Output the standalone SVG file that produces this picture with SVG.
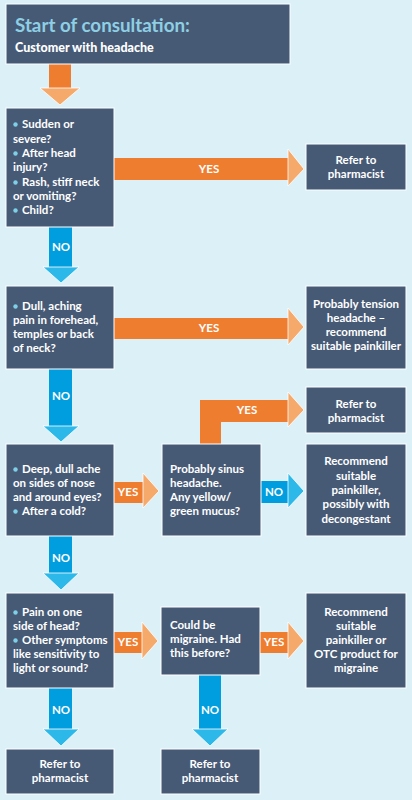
<svg xmlns="http://www.w3.org/2000/svg" width="412" height="800" viewBox="0 0 412 800">
<style>
.bg{fill:#dcf0f8}
.box{fill:#465a76;stroke:#ffffff;stroke-width:1}
.t{font-family:Lato,"Open Sans","Liberation Sans",sans-serif;font-weight:bold;font-size:11.5px;fill:#ffffff}
.sub{font-family:Lato,"Open Sans","Liberation Sans",sans-serif;font-weight:900;font-size:12.5px;fill:#ffffff}
.c{text-anchor:middle}
.b{fill:#7fcfe6}
.title{font-family:Lato,"Open Sans","Liberation Sans",sans-serif;font-weight:bold;font-size:18.8px;fill:#8ecfe4}
.os{fill:#ee7d30}
.oh{fill:#f5a96b;stroke:#ffffff;stroke-width:0.8}
.bs{fill:#009ede}
.bh{fill:#2db8ea;stroke:#ffffff;stroke-width:0.8}
</style>
<rect class="bg" x="0" y="0" width="412" height="800"/>

<g id="connectors">
  <rect class="os" x="49" y="64" width="22" height="25"/>
  <polygon class="oh" points="40,88 80,88 60,105"/>
  <rect class="os" x="114" y="158" width="175" height="22"/>
  <polygon class="oh" points="288,149 304,169 288,186"/>
  <text class="t c" x="209" y="173">YES</text>
  <rect class="bs" x="49" y="227" width="23" height="41"/>
  <polygon class="bh" points="43,267 79,267 61,283"/>
  <text class="t c" x="61" y="251">NO</text>
  <rect class="os" x="114" y="318" width="175" height="21"/>
  <polygon class="oh" points="288,308 304,327 288,345"/>
  <text class="t c" x="209" y="332">YES</text>
  <rect class="bs" x="49" y="369" width="23" height="58"/>
  <polygon class="bh" points="43,426 79,426 61,442"/>
  <text class="t c" x="61" y="400">NO</text>
  <rect class="os" x="114" y="482" width="30" height="21"/>
  <polygon class="oh" points="143,473 159,491 143,508"/>
  <text class="t c" x="128" y="496">YES</text>
  <path class="os" d="M200,444 V400 H289 V422 H221 V444 Z"/>
  <polygon class="oh" points="288,392 304,410 288,427"/>
  <text class="t c" x="247" y="414">YES</text>
  <rect class="bs" x="261" y="481" width="28" height="22"/>
  <polygon class="bh" points="288,473 304,491 288,508"/>
  <text class="t c" x="274" y="496">NO</text>
  <rect class="bs" x="49" y="536" width="23" height="38"/>
  <polygon class="bh" points="43,573 79,573 61,590"/>
  <text class="t c" x="61" y="562">NO</text>
  <rect class="os" x="114" y="632" width="29" height="21"/>
  <polygon class="oh" points="142,622 158,641 142,659"/>
  <text class="t c" x="128" y="646">YES</text>
  <rect class="os" x="260" y="632" width="29" height="21"/>
  <polygon class="oh" points="288,622 304,641 288,659"/>
  <text class="t c" x="274" y="646">YES</text>
  <rect class="bs" x="49" y="688" width="23" height="42"/>
  <polygon class="bh" points="43,729 79,729 61,746"/>
  <text class="t c" x="61" y="714">NO</text>
  <rect class="bs" x="199" y="675" width="22" height="55"/>
  <polygon class="bh" points="192,729 228,729 210,746"/>
  <text class="t c" x="210" y="714">NO</text>
</g>

<g id="start">
  <rect class="box" x="6" y="4" width="284" height="60"/>
  <text class="title" x="15" y="32">Start of consultation:</text>
  <text class="sub" x="15" y="52">Customer with headache</text>
</g>

<g id="q1">
  <rect class="box" x="6" y="108" width="108" height="119"/>
  <circle class="b" cx="15.5" cy="124.5" r="2.2"/>
  <text class="t" x="22" y="128">Sudden or</text>
  <text class="t" x="13" y="143">severe?</text>
  <circle class="b" cx="15.5" cy="153.5" r="2.2"/>
  <text class="t" x="22" y="157">After head</text>
  <text class="t" x="13" y="171">injury?</text>
  <circle class="b" cx="15.5" cy="182.5" r="2.2"/>
  <text class="t" x="22" y="186">Rash, stiff neck</text>
  <text class="t" x="13" y="200">or vomiting?</text>
  <circle class="b" cx="15.5" cy="210.5" r="2.2"/>
  <text class="t" x="22" y="214">Child?</text>
</g>

<g id="refer1">
  <rect class="box" x="306" y="144" width="100" height="46"/>
  <text class="t c" x="356" y="164">Refer to</text>
  <text class="t c" x="356" y="178">pharmacist</text>
</g>

<g id="q2">
  <rect class="box" x="6" y="286" width="108" height="83"/>
  <circle class="b" cx="15.5" cy="306.5" r="2.2"/>
  <text class="t" x="22" y="310">Dull, aching</text>
  <text class="t" x="13" y="324">pain in forehead,</text>
  <text class="t" x="13" y="338">temples or back</text>
  <text class="t" x="13" y="352">of neck?</text>
</g>

<g id="tension">
  <rect class="box" x="306" y="286" width="100" height="83"/>
  <text class="t c" x="356" y="308">Probably tension</text>
  <text class="t c" x="356" y="322">headache –</text>
  <text class="t c" x="356" y="336">recommend</text>
  <text class="t c" x="356" y="350">suitable painkiller</text>
</g>

<g id="refer2">
  <rect class="box" x="306" y="387" width="100" height="46"/>
  <text class="t c" x="356" y="408">Refer to</text>
  <text class="t c" x="356" y="422">pharmacist</text>
</g>

<g id="q3">
  <rect class="box" x="6" y="444" width="108" height="92"/>
  <circle class="b" cx="15.5" cy="469.5" r="2.2"/>
  <text class="t" x="22" y="473">Deep, dull ache</text>
  <text class="t" x="13" y="487">on sides of nose</text>
  <text class="t" x="13" y="501">and around eyes?</text>
  <circle class="b" cx="15.5" cy="511.5" r="2.2"/>
  <text class="t" x="22" y="515">After a cold?</text>
</g>

<g id="sinus">
  <rect class="box" x="162" y="444" width="99" height="92"/>
  <text class="t" x="170" y="473">Probably sinus</text>
  <text class="t" x="170" y="487">headache.</text>
  <text class="t" x="170" y="501">Any yellow/</text>
  <text class="t" x="170" y="515">green mucus?</text>
</g>

<g id="decongestant">
  <rect class="box" x="306" y="444" width="100" height="92"/>
  <text class="t c" x="356" y="465">Recommend</text>
  <text class="t c" x="356" y="480">suitable</text>
  <text class="t c" x="356" y="494">painkiller,</text>
  <text class="t c" x="356" y="508">possibly with</text>
  <text class="t c" x="356" y="523">decongestant</text>
</g>

<g id="q4">
  <rect class="box" x="6" y="593" width="108" height="95"/>
  <circle class="b" cx="15.5" cy="612.5" r="2.2"/>
  <text class="t" x="22" y="616">Pain on one</text>
  <text class="t" x="13" y="630">side of head?</text>
  <circle class="b" cx="15.5" cy="640.5" r="2.2"/>
  <text class="t" x="22" y="644">Other symptoms</text>
  <text class="t" x="13" y="658">like sensitivity to</text>
  <text class="t" x="13" y="672">light or sound?</text>
</g>

<g id="migraine">
  <rect class="box" x="161" y="607" width="99" height="68"/>
  <text class="t" x="170" y="629">Could be</text>
  <text class="t" x="170" y="643">migraine. Had</text>
  <text class="t" x="170" y="657">this before?</text>
</g>

<g id="otc">
  <rect class="box" x="306" y="593" width="100" height="95"/>
  <text class="t c" x="356" y="616">Recommend</text>
  <text class="t c" x="356" y="630">suitable</text>
  <text class="t c" x="356" y="644">painkiller or</text>
  <text class="t c" x="356" y="658">OTC product for</text>
  <text class="t c" x="356" y="672">migraine</text>
</g>

<g id="refer3">
  <rect class="box" x="6" y="749" width="108" height="45"/>
  <text class="t c" x="60" y="768">Refer to</text>
  <text class="t c" x="60" y="782">pharmacist</text>
</g>

<g id="refer4">
  <rect class="box" x="161" y="749" width="99" height="45"/>
  <text class="t c" x="210" y="768">Refer to</text>
  <text class="t c" x="210" y="782">pharmacist</text>
</g>
</svg>
